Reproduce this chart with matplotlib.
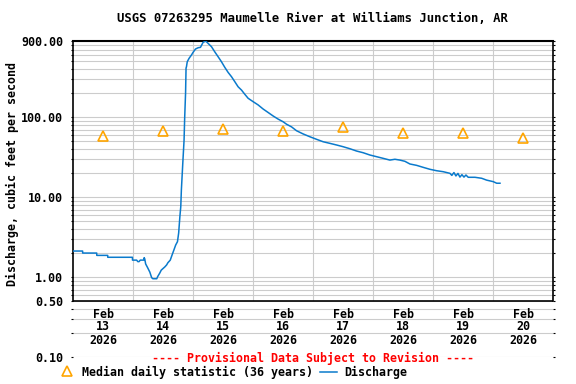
import matplotlib
matplotlib.use("Agg")
import matplotlib.pyplot as plt
from matplotlib.lines import Line2D
from matplotlib.transforms import blended_transform_factory
from matplotlib.ticker import LogLocator, NullFormatter

# ===== DATA =====
TITLE = "USGS 07263295 Maumelle River at Williams Junction, AR"
Y_LABEL = "Discharge, cubic feet per second"
PROVISIONAL = "---- Provisional Data Subject to Revision ----"
MEDIAN_LABEL = "Median daily statistic (36 years)"
DISCHARGE_LABEL = "Discharge"

# days since Feb 13 2026 00:00
discharge_days = [
    0.0, 0.16, 0.161, 0.395, 0.396, 0.578, 0.579, 0.99, 0.991, 1.06, 1.08, 1.10, 1.12,
    1.18, 1.185, 1.195, 1.21, 1.245, 1.28, 1.31, 1.33, 1.395, 1.41, 1.445, 1.47,
    1.53, 1.56, 1.58, 1.62, 1.65, 1.68, 1.71, 1.74, 1.76, 1.78, 1.795, 1.805, 1.82,
    1.83, 1.85, 1.86, 1.875, 1.883, 1.89, 1.903, 1.933, 1.973, 2.0, 2.04, 2.083,
    2.123, 2.167, 2.21, 2.25, 2.307, 2.36, 2.417, 2.473, 2.528, 2.583, 2.64, 2.695,
    2.75, 2.807, 2.862, 2.917, 3.0, 3.083, 3.167, 3.25, 3.333, 3.417, 3.5, 3.557,
    3.64, 3.723, 3.833, 3.945, 4.057, 4.167, 4.278, 4.39, 4.5, 4.612, 4.723, 4.833,
    4.945, 5.057, 5.167, 5.278, 5.362, 5.445, 5.528, 5.612, 5.723, 5.833, 5.945,
    6.057, 6.167, 6.278, 6.31, 6.345, 6.378, 6.412, 6.445, 6.478, 6.512, 6.545,
    6.583, 6.695, 6.807, 6.89, 7.0, 7.057, 7.112,
]
discharge_cfs = [
    2.13, 2.13, 2.01, 2.01, 1.88, 1.88, 1.78, 1.78, 1.64, 1.64, 1.57, 1.57, 1.64,
    1.64, 1.76, 1.70, 1.47, 1.31, 1.16, 0.99, 0.96, 0.96, 1.02, 1.13, 1.23,
    1.35, 1.43, 1.52, 1.64, 1.90, 2.19, 2.53, 2.79, 3.58, 5.72, 7.63, 12.3, 20.1,
    27.9, 52.0, 98.0, 201.0, 413.0, 429.0, 495.0, 546.0, 601.0, 649.0, 714.0, 741.0,
    750.0, 866.0, 899.0, 841.0, 763.0, 661.0, 572.0, 495.0, 422.0, 365.0, 322.0, 279.0,
    241.0, 219.0, 194.0, 173.0, 157.0, 143.0, 127.0, 115.0, 104.0, 95.0, 88.0, 82.0,
    76.0, 68.0, 62.0, 57.2, 53.1, 49.5, 47.3, 45.1, 42.9, 40.5, 37.9, 36.1,
    33.8, 32.2, 30.7, 29.2, 29.9, 29.2, 28.2, 26.1, 25.1, 23.7, 22.4,
    21.5, 20.9, 19.95, 18.8, 20.4, 18.5, 19.9, 17.9, 19.2, 17.9, 19.0,
    17.8, 17.8, 17.3, 16.4, 15.7, 15.0, 15.0,
]

median_days = [0.5, 1.5, 2.5, 3.5, 4.5, 5.5, 6.5, 7.5]
median_cfs = [59, 68, 72, 68, 76, 63.5, 63, 54.6]

date_labels = ["13", "14", "15", "16", "17", "18", "19", "20"]
month_label = "Feb"
year_label = "2026"

y_ticks = [0.1, 0.5, 1, 10, 100, 900]
y_tick_labels = ["0.10", "0.50", "1.00", "10.00", "100.00", "900.00"]
# =================

LINE_COLOR = "#0a7acc"
MEDIAN_COLOR = "#ffa500"
GRID_COLOR = "#cccccc"
FONT = {"family": "DejaVu Sans Mono", "weight": "bold", "size": 8.35}
TITLE_FONT = {"family": "DejaVu Sans Mono", "weight": "bold", "size": 8.85}

W, H = 576, 384
fig = plt.figure(figsize=(W / 100, H / 100), dpi=100)
ax = fig.add_axes([73 / W, 1 - 357.3 / H, (553.3 - 73) / W, (357.3 - 41) / H])

ax.set_yscale("log")
ax.set_ylim(0.1, 900)
ax.set_xlim(0, 8)

ax.yaxis.set_minor_locator(LogLocator(base=10, subs=range(2, 10)))
ax.yaxis.set_minor_formatter(NullFormatter())
ax.set_yticks(y_ticks)
ax.set_yticklabels(y_tick_labels, fontdict=FONT)
ax.grid(True, which="both", axis="y", color=GRID_COLOR, linewidth=0.8, zorder=0)
ax.tick_params(axis="y", which="both", length=1.2, width=0.8, pad=6, left=True, right=True)
ax.set_xticks([])

ax.vlines(range(1, 8), 0.5, 900, color=GRID_COLOR, linewidth=0.8, zorder=0)

for side in ["left", "right"]:
    ax.spines[side].set_bounds(0.5, 900)
    ax.spines[side].set_linewidth(1.2)
ax.spines["top"].set_linewidth(1.5)
ax.spines["bottom"].set_visible(False)
ax.axhline(0.5, color="black", linewidth=1.2, zorder=3)

ax.plot(discharge_days, discharge_cfs, color=LINE_COLOR, linewidth=1.1, zorder=4)
ax.plot(median_days, median_cfs, linestyle="none", marker="^", markersize=7,
        markerfacecolor="none", markeredgecolor=MEDIAN_COLOR, markeredgewidth=1.2, zorder=5)

trans = blended_transform_factory(ax.transData, fig.transFigure)
for i, day in enumerate(date_labels):
    xc = i + 0.5
    ax.text(xc, 1 - 314 / H, month_label, transform=trans, ha="center", va="center", fontdict=FONT)
    ax.text(xc, 1 - 327 / H, day, transform=trans, ha="center", va="center", fontdict=FONT)
    ax.text(xc, 1 - 340.5 / H, year_label, transform=trans, ha="center", va="center", fontdict=FONT)

fig.text(312 / W, 1 - 19 / H, TITLE, ha="center", va="center", fontdict=TITLE_FONT)
fig.text(12 / W, 1 - 174.5 / H, Y_LABEL, rotation=90, ha="center", va="center", fontdict=FONT)
fig.text(313 / W, 1 - 358 / H, PROVISIONAL, ha="center", va="center", color="red", fontdict=FONT)

fig.add_artist(Line2D([67 / W], [1 - 371 / H], marker="^", markersize=7, markerfacecolor="none",
                      markeredgecolor=MEDIAN_COLOR, markeredgewidth=1.2, transform=fig.transFigure))
fig.text(82 / W, 1 - 372 / H, MEDIAN_LABEL, ha="left", va="center", fontdict=FONT)
fig.add_artist(Line2D([320 / W, 337 / W], [1 - 371.5 / H, 1 - 371.5 / H], color=LINE_COLOR,
                      linewidth=1.1, transform=fig.transFigure))
fig.text(344 / W, 1 - 372 / H, DISCHARGE_LABEL, ha="left", va="center", fontdict=FONT)

fig.savefig("out.png", dpi=100, facecolor="white")
